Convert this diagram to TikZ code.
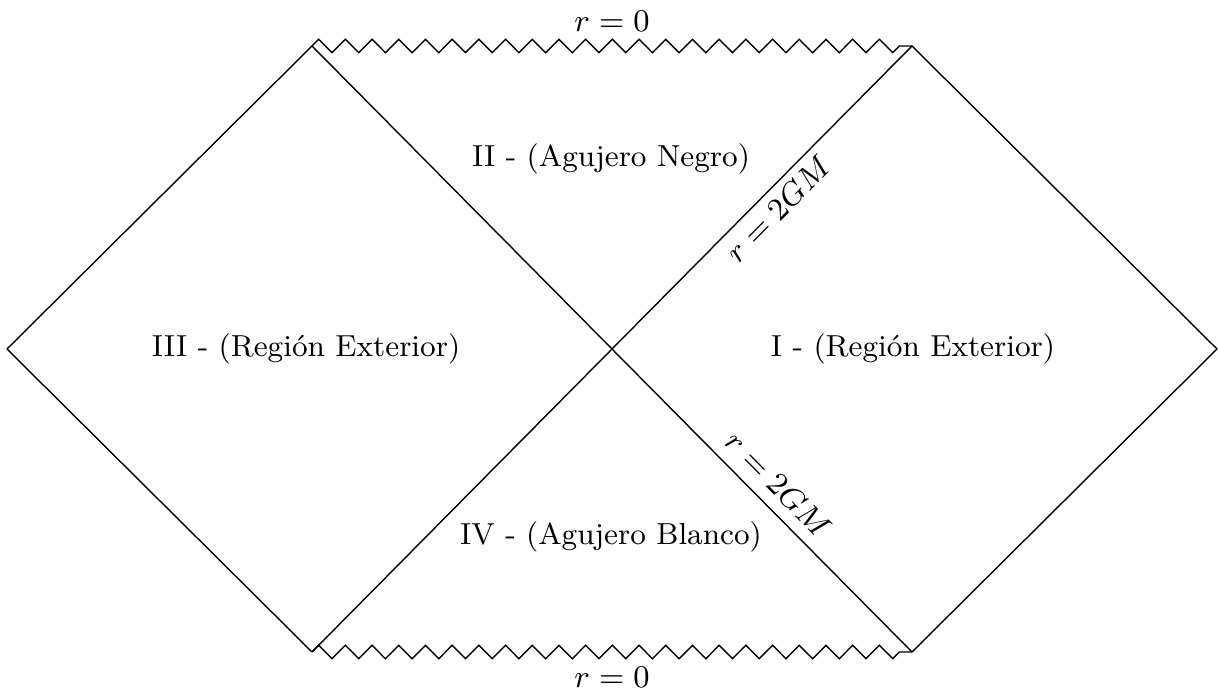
\documentclass[tikz,border=0pt]{standalone}
\usepackage{amsmath,amssymb}
\usetikzlibrary{decorations.pathmorphing,calc}

\begin{document}
\begin{tikzpicture}[
    every node/.style={font=\fontsize{8.65}{10.5}\selectfont},
    sing/.style={decorate, decoration={zigzag, segment length=0.267cm, amplitude=0.067cm}},
    region/.style={}
]
\useasboundingbox (-6.12,-3.42) rectangle (6.07,3.49);
\coordinate (c) at (0,0);
\coordinate (l) at (-6.05,0);
\coordinate (r) at (6.05,0);
\coordinate (tl) at (-3,3.03);
\coordinate (tr) at (3,3.03);
\coordinate (bl) at (-3,-3.03);
\coordinate (br) at (3,-3.03);

% outer diamond and horizons
\draw (l) -- (tl);
\draw (l) -- (bl);
\draw (r) -- (tr);
\draw (r) -- (br);
\draw (tl) -- (c);
\draw (c) -- (br) node[pos=0.5, sloped, above] (hb) {$r=2GM$};
\draw (bl) -- (c);
\draw (c) -- (tr) node[pos=0.508, sloped, below=-0.04cm] (ht) {$r=2GM$};

% singularities
\draw[sing] (tl) -- (tr) node[midway, above=0.02cm] (stop) {$r=0$};
\draw[sing] (bl) -- (br) node[midway, below=0.03cm] (sbot) {$r=0$};

\node[region] (I) at (3.01,0) {I - (Región Exterior)};
\node[region] (II) at (-0.01,1.90) {II - (Agujero Negro)};
\node[region] (III) at (-3.06,0) {III - (Región Exterior)};
\node[region] (IV) at (-0.01,-1.88) {IV - (Agujero Blanco)};
\end{tikzpicture}
\end{document}
